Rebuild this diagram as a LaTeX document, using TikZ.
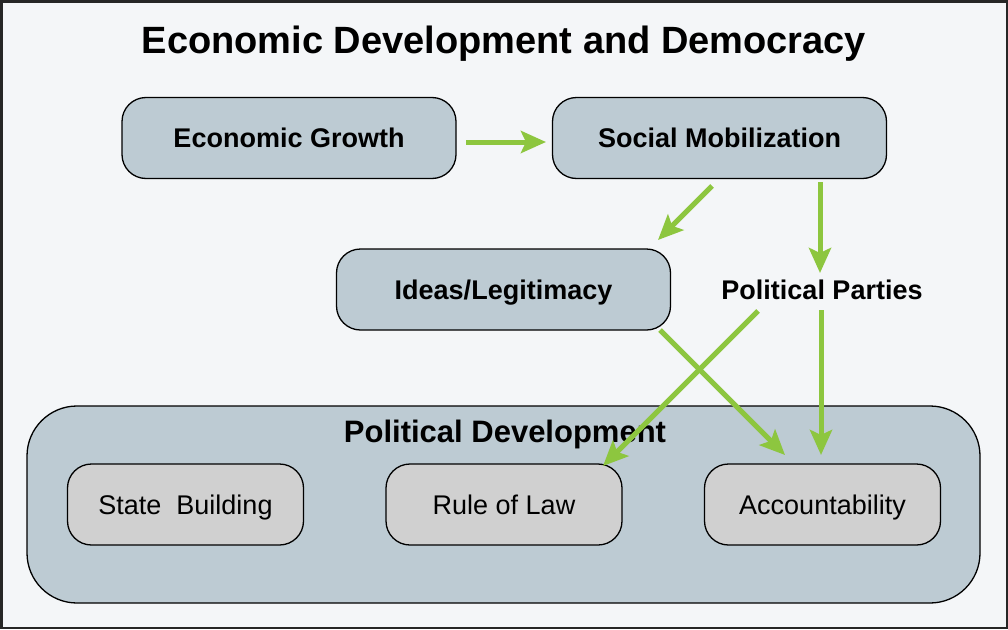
\documentclass[tikz,border=0pt]{standalone}
\usepackage{fontspec}
\setmainfont{Liberation Sans}
\usetikzlibrary{arrows.meta}
\definecolor{bgc}{HTML}{F4F6F8}
\definecolor{boxc}{HTML}{BDCBD3}
\definecolor{greyc}{HTML}{D0D0D0}
\definecolor{arrc}{HTML}{8DC63F}
\tikzset{
  topbox/.style={draw=black, line width=1.3pt, fill=boxc, rounded corners=24pt, minimum width=334pt, minimum height=81pt, font=\fontsize{27}{32}\selectfont\bfseries, inner sep=0pt, text height=19.4pt, text depth=0pt},
  subbox/.style={draw=black, line width=1.3pt, fill=greyc, rounded corners=24pt, minimum width=236pt, minimum height=81pt, font=\fontsize{27}{32}\selectfont, inner sep=0pt, text height=19.4pt, text depth=0pt},
  garrow/.style={draw=arrc, line width=5pt, -{Stealth[length=25pt, width=22pt, inset=5pt]}},
}
\begin{document}
\begin{tikzpicture}[x=1pt,y=-1pt]
\useasboundingbox (0,0) rectangle (1008,629);
\draw[fill=bgc, draw=black!85, line width=2.5pt] (1.25,1.25) rectangle (1006.75,627.75);
\node[font=\fontsize{38}{44}\selectfont\bfseries, inner sep=0pt, text height=27.4pt, text depth=0pt] (title) at (504,40) {Economic Development and Democracy};
\node[topbox] (eg) at (289,138) {Economic Growth};
\node[topbox] (sm) at (719.5,138) {Social Mobilization};
\node[topbox] (il) at (503.5,289.5) {Ideas/Legitimacy};
\node[font=\fontsize{27}{32}\selectfont\bfseries, inner sep=0pt, text height=19.4pt, text depth=0pt] (pp) at (822,290) {Political Parties};
\node[draw=black, line width=1.3pt, fill=boxc, rounded corners=50pt, minimum width=953pt, minimum height=197pt, inner sep=0pt] (pd) at (503.5,504.5) {};
\node[font=\fontsize{31}{36}\selectfont\bfseries, inner sep=0pt, text height=22.3pt, text depth=0pt] (pdl) at (505,431) {Political Development};
\node[subbox] (sb) at (185.5,504.5) {State\ \ Building};
\node[subbox] (rl) at (504,504.5) {Rule of Law};
\node[subbox] (ac) at (822.5,504.5) {Accountability};
\coordinate (a1s) at (466,142); \coordinate (a1e) at (546,142);
\coordinate (a2s) at (712,186); \coordinate (a2e) at (658,240);
\coordinate (a3s) at (820,182); \coordinate (a3e) at (820,273);
\coordinate (a4s) at (660,330); \coordinate (a4e) at (785,455);
\coordinate (a5s) at (758,311); \coordinate (a5e) at (603,466);
\coordinate (a6s) at (821,310); \coordinate (a6e) at (821,455);
\draw[garrow] (a1s) -- (a1e);
\draw[garrow] (a2s) -- (a2e);
\draw[garrow] (a3s) -- (a3e);
\draw[garrow] (a4s) -- (a4e);
\draw[garrow] (a5s) -- (a5e);
\draw[garrow] (a6s) -- (a6e);
\end{tikzpicture}
\end{document}
